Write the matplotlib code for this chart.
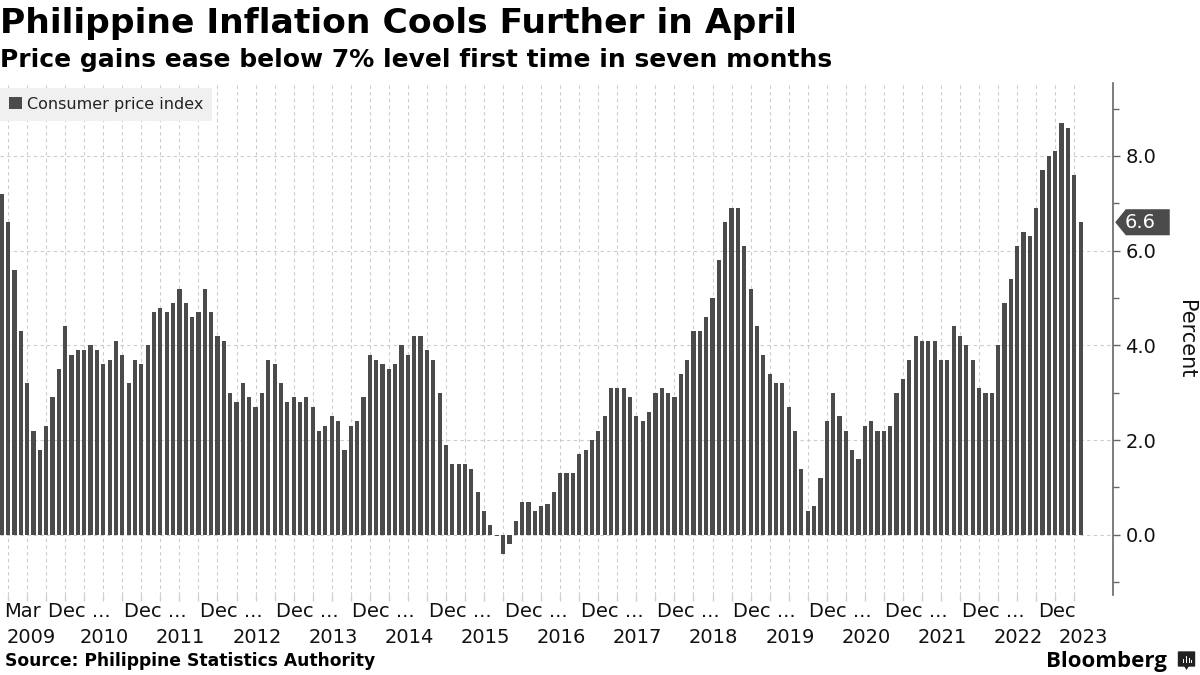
import numpy as np
import matplotlib
matplotlib.use('Agg')
import matplotlib.pyplot as plt
from matplotlib.patches import Patch, Polygon, FancyBboxPatch, Rectangle
from matplotlib.ticker import FixedLocator, MultipleLocator, FormatStrFormatter

# Philippine CPI, year-on-year %, monthly from Feb 2009 to Apr 2023
start_year, start_month = 2009, 2
cpi = [
    7.2, 6.6, 5.6, 4.3, 3.2, 2.2, 1.8, 2.3, 2.9, 3.5, 4.4,            # 2009 Feb-Dec
    3.8, 3.9, 3.9, 4.0, 3.9, 3.6, 3.7, 4.1, 3.8, 3.2, 3.7, 3.6,       # 2010
    4.0, 4.7, 4.8, 4.7, 4.9, 5.2, 4.9, 4.6, 4.7, 5.2, 4.7, 4.2,       # 2011
    4.1, 3.0, 2.8, 3.2, 2.9, 2.7, 3.0, 3.7, 3.6, 3.2, 2.8, 2.9,       # 2012
    2.8, 2.9, 2.7, 2.2, 2.3, 2.5, 2.4, 1.8, 2.3, 2.4, 2.9, 3.8,       # 2013
    3.7, 3.6, 3.5, 3.6, 4.0, 3.8, 4.2, 4.2, 3.9, 3.7, 3.0, 1.9,       # 2014
    1.5, 1.5, 1.5, 1.4, 0.9, 0.5, 0.2, -0.02, -0.4, -0.2, 0.3, 0.7,   # 2015
    0.7, 0.5, 0.6, 0.65, 0.9, 1.3, 1.3, 1.3, 1.7, 1.8, 2.0, 2.2,      # 2016
    2.5, 3.1, 3.1, 3.1, 2.9, 2.5, 2.4, 2.6, 3.0, 3.1, 3.0, 2.9,       # 2017
    3.4, 3.7, 4.3, 4.3, 4.6, 5.0, 5.8, 6.6, 6.9, 6.9, 6.1, 5.2,       # 2018
    4.4, 3.8, 3.4, 3.2, 3.2, 2.7, 2.2, 1.4, 0.5, 0.6, 1.2, 2.4,       # 2019
    3.0, 2.5, 2.2, 1.8, 1.6, 2.3, 2.4, 2.2, 2.2, 2.3, 3.0, 3.3,       # 2020
    3.7, 4.2, 4.1, 4.1, 4.1, 3.7, 3.7, 4.4, 4.2, 4.0, 3.7, 3.1,       # 2021
    3.0, 3.0, 4.0, 4.9, 5.4, 6.1, 6.4, 6.3, 6.9, 7.7, 8.0, 8.1,       # 2022
    8.7, 8.6, 7.6, 6.6,                                               # 2023 Jan-Apr
]

title = 'Philippine Inflation Cools Further in April'
subtitle = 'Price gains ease below 7% level first time in seven months'
series_name = 'Consumer price index'
source = 'Source: Philippine Statistics Authority'
y_ticks = [0, 2, 4, 6, 8]

BAR = '#4b4b4b'
GRID = '#cccccc'
TEXT = '#111111'

n = len(cpi)
idx = np.arange(n)
months = (start_month - 1 + idx) % 12 + 1
years = start_year + (start_month - 1 + idx) // 12

W, H = 1200, 675
fig = plt.figure(figsize=(W / 100, H / 100), dpi=100)
fig.patch.set_facecolor('white')

# axes box in pixels: left 0, right 1113, top 83, bottom 595
ax = fig.add_axes([0, 80 / H, 1113 / W, 512 / H])

ax.bar(idx, cpi, width=0.66, color=BAR, zorder=2)

ax.set_xlim(-0.27, 175.1)
ax.set_ylim(-1.27, 9.54)

for s in ['left', 'top', 'bottom']:
    ax.spines[s].set_visible(False)
ax.spines['right'].set_color('#666666')
ax.spines['right'].set_linewidth(1.2)

# y axis on the right
ax.yaxis.tick_right()
ax.yaxis.set_major_locator(FixedLocator(y_ticks))
ax.yaxis.set_minor_locator(MultipleLocator(1))
ax.yaxis.set_major_formatter(FormatStrFormatter('%.1f'))
ax.tick_params(axis='y', which='major', direction='out', length=5, width=1,
               color='#666666', labelsize=14, labelcolor=TEXT, pad=4)
ax.tick_params(axis='y', which='minor', direction='out', length=4, width=1,
               color='#666666')

# quarterly vertical grid (Mar/Jun/Sep/Dec)
quarter_pos = idx[months % 3 == 0]
ax.set_xticks([])
ax.xaxis.set_minor_locator(FixedLocator(quarter_pos))
ax.tick_params(axis='x', which='minor', direction='out', length=4, width=1,
               color='#cfcfcf', labelbottom=False)

ax.set_axisbelow(True)
ax.yaxis.grid(True, which='major', color=GRID, linestyle=(0, (3, 3)), linewidth=0.8)
ax.xaxis.grid(True, which='minor', color=GRID, linestyle=(0, (3, 3)), linewidth=0.8)

# x labels: month row and year row
xt = ax.get_xaxis_transform()
row1 = -22 / 512
row2 = -48 / 512
ax.text(0.36, row1, 'Mar', transform=xt, ha='left', va='baseline',
        fontsize=14, color=TEXT)
dec_pos = idx[months == 12]
for k, p in enumerate(dec_pos):
    lab = 'Dec' if k == len(dec_pos) - 1 else 'Dec ...'
    ax.text(p - 2.75, row1, lab, transform=xt, ha='left', va='baseline',
            fontsize=14, color=TEXT)
uniq_years = np.unique(years)
for y in uniq_years[:-1]:
    ax.text(idx[years == y].mean() - 0.3, row2, str(y), transform=xt, ha='center',
            va='baseline', fontsize=14, color=TEXT)
ax.text(0.9955, row2, str(uniq_years[-1]), transform=ax.transAxes, ha='right',
        va='baseline', fontsize=14, color=TEXT)

# last value tag on the right axis
last = cpi[-1]
yt = ax.get_yaxis_transform()
hh = 0.275
tag = Polygon([(1.002, last), (1.0115, last + hh), (1.051, last + hh),
               (1.051, last - hh), (1.0115, last - hh)],
              closed=True, transform=yt, facecolor=BAR, edgecolor='none',
              clip_on=False, zorder=5)
ax.add_patch(tag)
ax.text(1.0105, last, f'{last:.1f}', transform=yt, ha='left', va='center',
        fontsize=14, color='white', zorder=6)

ax.text(1186 / 1113, 0.5, 'Percent', transform=ax.transAxes, rotation=270,
        ha='center', va='center', fontsize=15, color=TEXT)

# legend
leg = ax.legend(handles=[Patch(facecolor=BAR, label=series_name)],
                loc='upper left', bbox_to_anchor=(0, 1 - 5 / 512),
                borderaxespad=0, frameon=True, fancybox=False,
                facecolor='#f0f0f0', edgecolor='none', framealpha=1,
                fontsize=11.5, handlelength=0.8, handleheight=0.8,
                handletextpad=0.35, borderpad=0.55)
for t in leg.get_texts():
    t.set_color('#222222')

# titles and footer
fig.text(0, 1 - 33 / H, title, ha='left', va='baseline', fontsize=24.8,
         fontweight='bold', color='black')
fig.text(0, 1 - 67 / H, subtitle, ha='left', va='baseline', fontsize=18,
         fontweight='bold', color='black')
fig.text(5 / W, 1 - 666 / H, source, ha='left', va='baseline', fontsize=12.3,
         fontweight='bold', color='black')
fig.text(1167 / W, 1 - 667 / H, 'Bloomberg', ha='right', va='baseline',
         fontsize=16, fontweight='bold', family='Open Sans', color='black')

# small Bloomberg icon
icon = FancyBboxPatch((1179 / W, 1 - 666 / H), 15 / W, 14 / H,
                      boxstyle='round,pad=0.001', transform=fig.transFigure,
                      facecolor='#222222', edgecolor='none')
fig.patches.append(icon)
fig.patches.append(Polygon([(1184 / W, 1 - 666 / H), (1189 / W, 1 - 666 / H),
                            (1186.5 / W, 1 - 670 / H)], closed=True,
                           transform=fig.transFigure, facecolor='#222222',
                           edgecolor='none'))
for bx, bh in [(1182.5, 4), (1185.5, 7), (1188.5, 5), (1191, 3)]:
    fig.patches.append(Rectangle((bx / W, 1 - 663 / H), 1.4 / W, bh / H,
                                 transform=fig.transFigure, facecolor='white',
                                 edgecolor='none'))

fig.savefig('out.png', dpi=100)
